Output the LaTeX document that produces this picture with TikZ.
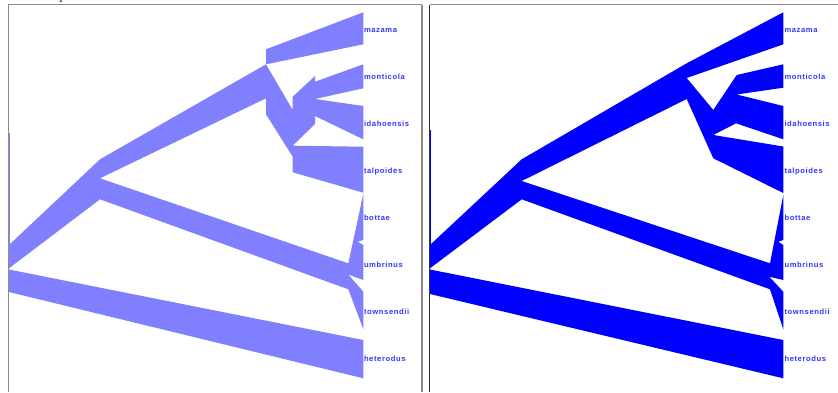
\documentclass[tikz,border=0pt]{standalone}
\usepackage{fontspec}
\newfontfamily\labfont[LetterSpace=8.0]{Liberation Sans}
\definecolor{lightfill}{HTML}{8080FF}
\definecolor{darkfill}{HTML}{0000FF}
\definecolor{labcol}{HTML}{3333FF}
\definecolor{framegray}{HTML}{8C8C8C}
\begin{document}
\begin{tikzpicture}[x=1pt,y=-1pt,
  lab/.style={anchor=base west,inner sep=0pt,text=labcol,font=\labfont\bfseries\fontsize{7.6}{8}\selectfont},
  frame/.style={draw=framegray,line width=1pt}]
\useasboundingbox (0,0) rectangle (838,392);
% cropped caption fragment
\node[anchor=base,inner sep=0pt,font=\fontsize{14}{14}\selectfont] (cap) at (63,-0.6) {p};
% frames
\draw[frame] (8.5,392) -- (8.5,4.5) -- (421.5,4.5) -- (421.5,392);
\draw[framegray,line width=1pt] (422.5,4.5) -- (422.5,392);
\draw[framegray,line width=1pt] (429.5,4.5) -- (838,4.5);
\draw[black!80,line width=1pt] (429.5,4.5) -- (429.5,392);
% ---------------- left panel ----------------
\begin{scope}[fill=lightfill]
\draw[lightfill,line width=1pt] (9.5,133) -- (9.5,246);
\fill (9,245) -- (100,159.3) -- (266,64.3) -- (292.7,110) -- (292.7,96.7) -- (315,76) -- (315,81.7)
  -- (363.3,64.3) -- (363.3,88.3) -- (315,99) -- (363.3,106) -- (363.3,139.3) -- (315,116) -- (315,124)
  -- (292.7,145.7) -- (363.3,146.7) -- (363.3,192.7) -- (292.7,172.3) -- (292.7,156.7) -- (266,114.3)
  -- (266,98.3) -- (100,178.3) -- (348.3,263.3)
  -- (363.3,194) -- (363.3,240) -- (357.8,241.7) -- (363.3,245) -- (363.3,280) -- (348.3,274.5)
  -- (363.3,291.7) -- (363.3,329.3) -- (348.3,289.3)
  -- (100,199.3) -- (9,268.3) -- cycle;
\fill (266,49.3) -- (363.3,12.3) -- (363.3,44.3) -- (266,64.3) -- cycle;
\fill (9,269.5) -- (363.3,340) -- (363.3,378.3) -- (9,292) -- cycle;
\end{scope}
% ---------------- right panel ----------------
\begin{scope}[fill=darkfill]
\draw[darkfill,line width=1pt] (430.5,130) -- (430.5,246);
\fill (430,245) -- (521.7,159.3) -- (686.7,63.3) -- (783.3,12.3) -- (783.3,44.3) -- (686.7,78)
  -- (713.3,110) -- (736.7,75) -- (783.3,64.3) -- (783.3,87.7) -- (736.7,94.5) -- (783.3,106)
  -- (783.3,139.3) -- (736,123.3) -- (713.3,135) -- (783.3,146.5) -- (783.3,193) -- (713.3,158.3)
  -- (686.7,99) -- (521.7,181) -- (770,263.3)
  -- (783.3,195) -- (783.3,240) -- (778.3,241.7) -- (783.3,245) -- (783.3,280) -- (769.3,276.7)
  -- (783.3,291.7) -- (783.3,329.3) -- (770,289.3)
  -- (521.7,199.3) -- (430,268.3) -- cycle;
\fill (430,269.5) -- (783.3,340) -- (783.3,378.3) -- (430,294) -- cycle;
\end{scope}
% ---------------- labels ----------------
\foreach \t [count=\i from 0] in {mazama,monticola,idahoensis,talpoides,bottae,umbrinus,townsendii,heterodus}{
  \node[lab] (L\i) at (363.8,32.5+47*\i) {\t};
  \node[lab] (R\i) at (784.3,32.5+47*\i) {\t};
}
\end{tikzpicture}
\end{document}
